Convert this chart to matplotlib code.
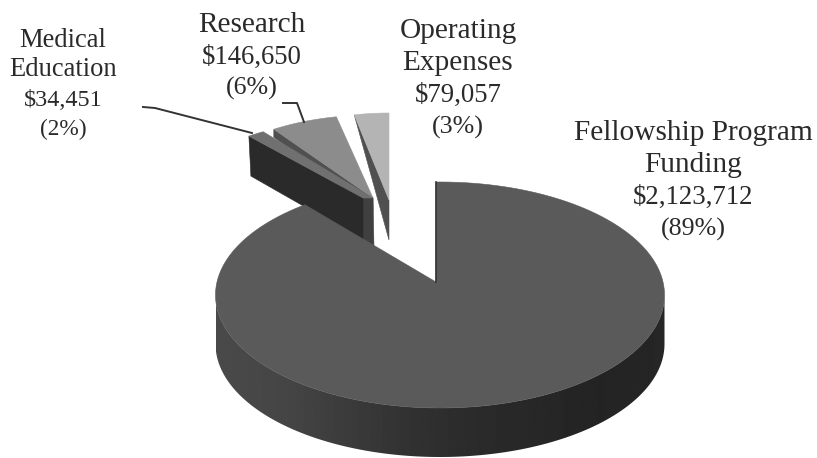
import numpy as np
import matplotlib
matplotlib.use('Agg')
import matplotlib.pyplot as plt
from matplotlib.patches import Polygon

# slices clockwise from 12 o'clock
names = ['Fellowship Program\nFunding', 'Medical\nEducation', 'Research', 'Operating\nExpenses']
values = [2123712, 34451, 146650, 79057]
amounts = ['$2,123,712', '$34,451', '$146,650', '$79,057']
percents = ['(89%)', '(2%)', '(6%)', '(3%)']

total = sum(values)
edges = np.concatenate([[0], np.cumsum(values)]) / total * 360

plt.rcParams['font.family'] = ['Liberation Serif', 'DejaVu Serif']
fig = plt.figure(figsize=(8.17, 4.58), dpi=100)
ax = fig.add_axes([0, 0, 1, 1])
ax.axis('off')


def arc(cx, cy, rx, ry, a0, a1, n=80):
    a = np.radians(np.linspace(a0, a1, n))
    return np.column_stack([cx + rx * np.sin(a), cy - ry * np.cos(a)])


def poly(pts, color, z):
    ax.add_patch(Polygon(pts, closed=True, fc=color, ec=color, lw=0.4, zorder=z))


# main slice: side wall shaded by x, clipped to the wall outline
cx, cy, rx, ry, depth = 440, 295, 224.5, 113, 49
rim = arc(cx, cy, rx, ry, 90, 270, 200)
wall = Polygon(np.vstack([rim, (rim + [0, depth])[::-1]]), closed=True, transform=ax.transData, fc='none', ec='none')
ax.add_patch(wall)
wall_x = [216, 290, 400, 470, 600, 665]
wall_g = [0.29, 0.27, 0.20, 0.17, 0.14, 0.15]
xs = np.linspace(216, 665, 450)
shade = np.interp(xs, wall_x, wall_g).reshape(1, -1)
im = ax.imshow(shade, cmap='gray', vmin=0, vmax=1, extent=[216, 665, 458, 290], aspect='auto', zorder=2)
im.set_clip_path(wall)

poly(np.vstack([[436, 282], arc(cx, cy, rx, ry, edges[0] - 1, edges[1] + 2.3, 200)]), '#5a5a5a', 3)
ax.plot([436, 436], [182, 282], color='#333333', lw=1.2, zorder=4)

# exploded slices, each with its own apex and radii
a_med = (edges[1], edges[2])
a_res = (edges[2], edges[3])
a_ope = (edges[3], edges[4])

# operating expenses
apex = np.array([389, 200])
top = arc(apex[0], apex[1], 168, 87, *a_ope, 20)
poly(np.vstack([top[0], apex, apex + [0, 40]]), '#505050', 1)
poly(np.vstack([apex, top]), '#b4b4b4', 1.5)

# research
apex = np.array([373, 198])
top = arc(apex[0], apex[1], 177, 83, *a_res, 30)
poly(np.vstack([top[0], apex, apex + [0, 12], top[0] + [0, 8]]), '#505050', 1.6)
poly(np.vstack([apex, top]), '#8c8c8c', 1.7)

# medical education
top = arc(apex[0], apex[1], 196, 80, *a_med, 10)
base = np.array([363, 198])
poly(np.vstack([base, apex, apex + [1, 50], base + [0, 42]]), '#404040', 1.8)
poly(np.vstack([top[0], base, base + [0, 42], top[0] + [2, 40]]), '#2a2a2a', 1.9)
poly(np.vstack([base, apex, top[::-1]]), '#707070', 1.95)

# leader lines
ax.plot([143, 155, 252], [107, 108, 133], color='#333333', lw=1.4, zorder=5)
ax.plot([283, 297, 304], [103, 103, 122], color='#333333', lw=1.4, zorder=5)

# labels: x centre, first baseline, line spacing, size scale
label_pos = [(693, 140, 32, 1.0), (63, 47, 29.3, 0.9), (252, 32, 31.5, 1.0), (458, 38, 32, 1.0)]
for name, amt, pct, (x, y, gap, k) in zip(names, amounts, percents, label_pos):
    lines = [(s, 21.2) for s in name.split('\n')] + [(amt, 19.3), (pct, 18.7)]
    for i, (line, fs) in enumerate(lines):
        ax.text(x, y + i * gap, line, ha='center', va='baseline', fontsize=fs * k, color='#2a2a2a', zorder=6)

ax.set_xlim(0, 817)
ax.set_ylim(458, 0)
fig.savefig('out.png', dpi=100, facecolor='white')
